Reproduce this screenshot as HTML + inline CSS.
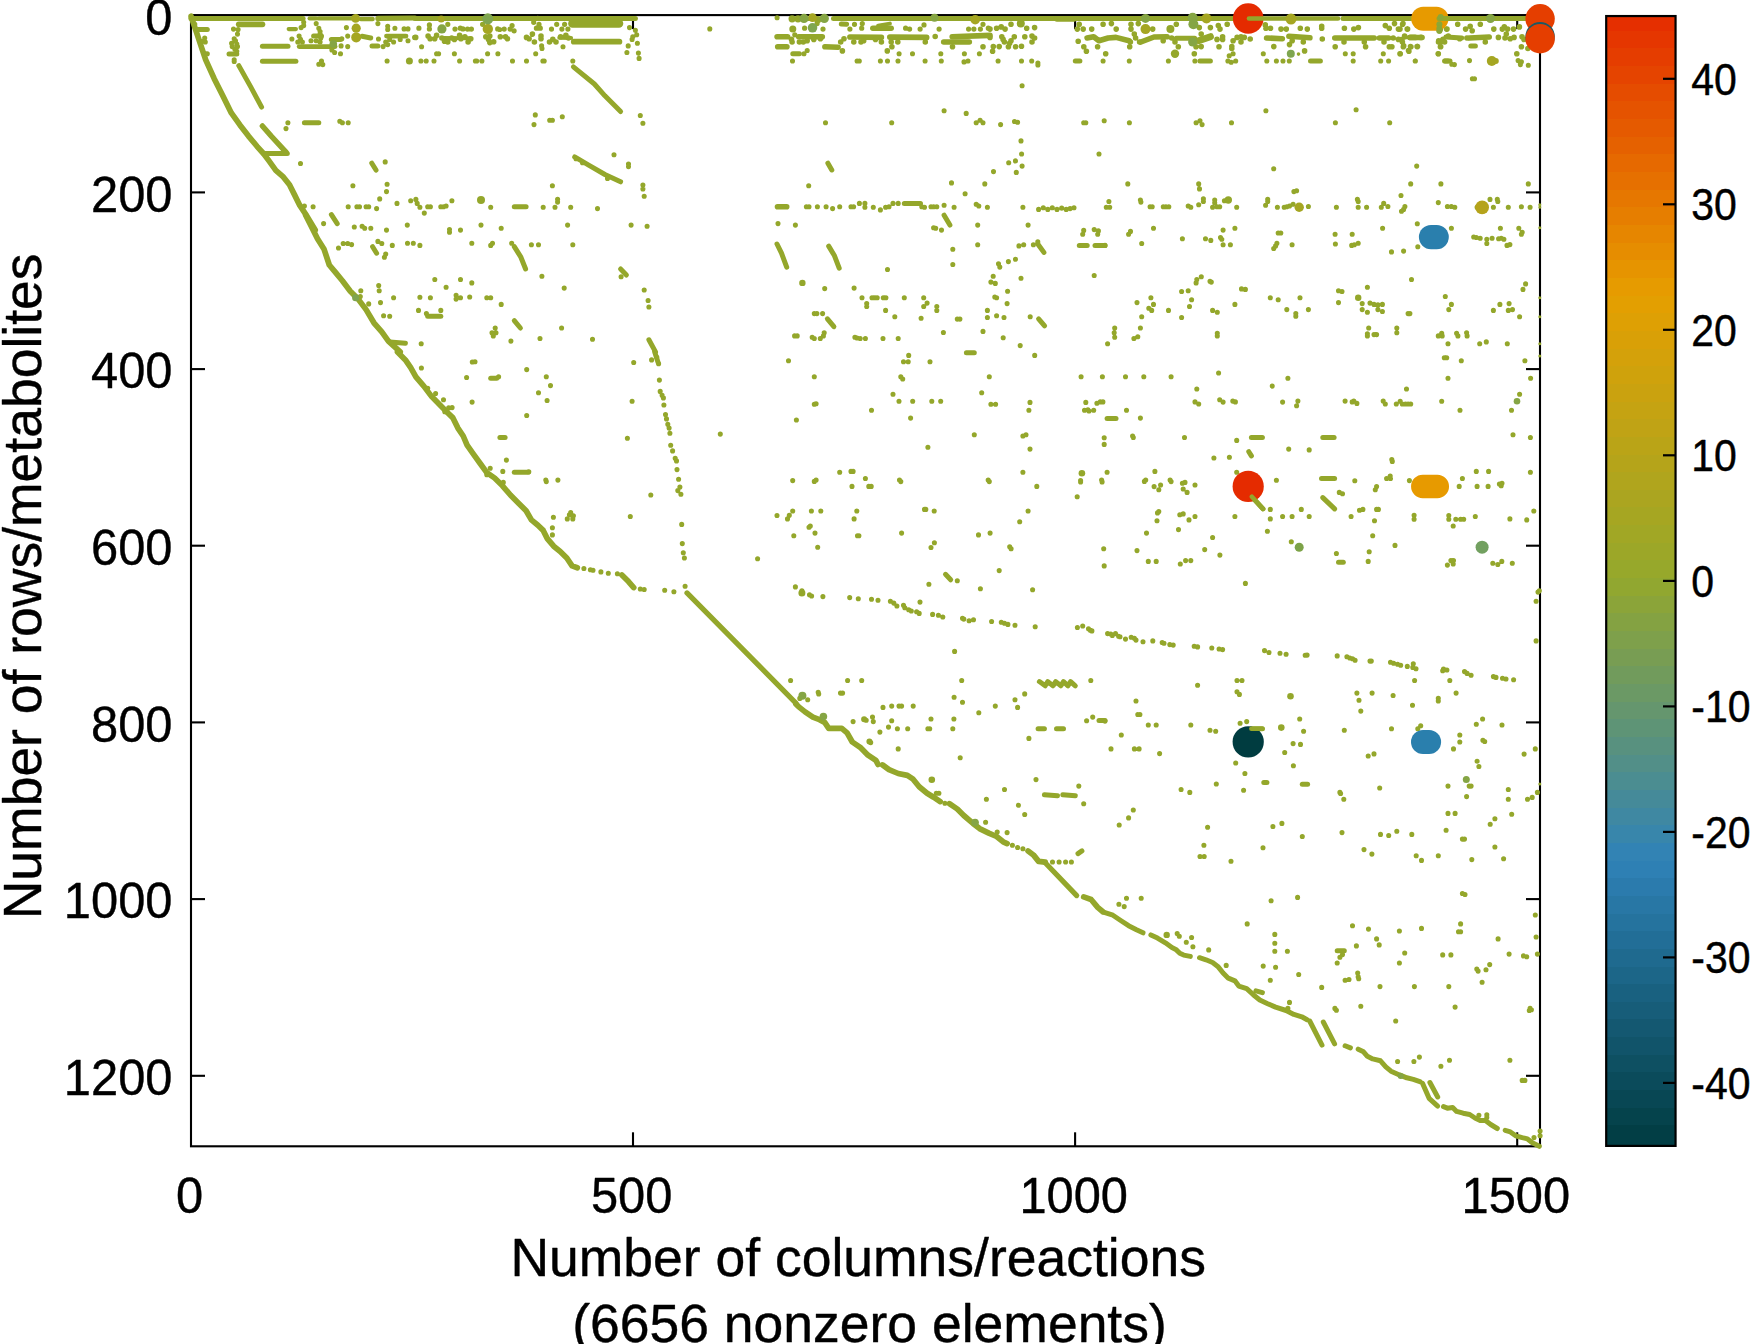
<!DOCTYPE html>
<html lang="en"><head><meta charset="utf-8"><title>Sparsity pattern</title>
<style>html,body{margin:0;padding:0;background:#fff}svg{display:block}text{font-family:"Liberation Sans",sans-serif;fill:#000;stroke:#000;stroke-width:0.4px;stroke-linejoin:round}</style></head><body>
<svg width="1753" height="1344" viewBox="0 0 1753 1344">
<rect width="1753" height="1344" fill="#fff"/>
<g shape-rendering="crispEdges">
<rect x="1606.2" y="1124.80" width="69.35" height="21.70" fill="#023e45"/>
<rect x="1606.2" y="1107.14" width="69.35" height="18.25" fill="#05434c"/>
<rect x="1606.2" y="1089.49" width="69.35" height="18.25" fill="#084754"/>
<rect x="1606.2" y="1071.84" width="69.35" height="18.25" fill="#0b4b5b"/>
<rect x="1606.2" y="1054.18" width="69.35" height="18.26" fill="#0e5062"/>
<rect x="1606.2" y="1036.52" width="69.35" height="18.25" fill="#11546a"/>
<rect x="1606.2" y="1018.87" width="69.35" height="18.25" fill="#145871"/>
<rect x="1606.2" y="1001.21" width="69.35" height="18.25" fill="#175d79"/>
<rect x="1606.2" y="983.56" width="69.35" height="18.25" fill="#196180"/>
<rect x="1606.2" y="965.90" width="69.35" height="18.25" fill="#1c6688"/>
<rect x="1606.2" y="948.25" width="69.35" height="18.25" fill="#1f6a8f"/>
<rect x="1606.2" y="930.59" width="69.35" height="18.26" fill="#226e97"/>
<rect x="1606.2" y="912.94" width="69.35" height="18.25" fill="#25739e"/>
<rect x="1606.2" y="895.28" width="69.35" height="18.25" fill="#2877a5"/>
<rect x="1606.2" y="877.63" width="69.35" height="18.26" fill="#2b7bad"/>
<rect x="1606.2" y="859.97" width="69.35" height="18.25" fill="#2e80b4"/>
<rect x="1606.2" y="842.32" width="69.35" height="18.25" fill="#3283b4"/>
<rect x="1606.2" y="824.66" width="69.35" height="18.25" fill="#3886ab"/>
<rect x="1606.2" y="807.01" width="69.35" height="18.25" fill="#3f88a2"/>
<rect x="1606.2" y="789.35" width="69.35" height="18.26" fill="#458a99"/>
<rect x="1606.2" y="771.70" width="69.35" height="18.25" fill="#4b8d91"/>
<rect x="1606.2" y="754.04" width="69.35" height="18.25" fill="#528f88"/>
<rect x="1606.2" y="736.39" width="69.35" height="18.26" fill="#58917f"/>
<rect x="1606.2" y="718.73" width="69.35" height="18.25" fill="#5e9476"/>
<rect x="1606.2" y="701.08" width="69.35" height="18.25" fill="#65966e"/>
<rect x="1606.2" y="683.42" width="69.35" height="18.25" fill="#6b9965"/>
<rect x="1606.2" y="665.77" width="69.35" height="18.25" fill="#719b5c"/>
<rect x="1606.2" y="648.11" width="69.35" height="18.26" fill="#789d53"/>
<rect x="1606.2" y="630.46" width="69.35" height="18.25" fill="#7ea04b"/>
<rect x="1606.2" y="612.80" width="69.35" height="18.25" fill="#84a242"/>
<rect x="1606.2" y="595.15" width="69.35" height="18.26" fill="#8ba439"/>
<rect x="1606.2" y="577.49" width="69.35" height="18.25" fill="#91a730"/>
<rect x="1606.2" y="559.84" width="69.35" height="18.25" fill="#97a82b"/>
<rect x="1606.2" y="542.18" width="69.35" height="18.25" fill="#9ca728"/>
<rect x="1606.2" y="524.53" width="69.35" height="18.25" fill="#a1a725"/>
<rect x="1606.2" y="506.87" width="69.35" height="18.26" fill="#a6a622"/>
<rect x="1606.2" y="489.22" width="69.35" height="18.25" fill="#aba520"/>
<rect x="1606.2" y="471.56" width="69.35" height="18.25" fill="#b0a51d"/>
<rect x="1606.2" y="453.91" width="69.35" height="18.26" fill="#b5a41a"/>
<rect x="1606.2" y="436.25" width="69.35" height="18.25" fill="#baa417"/>
<rect x="1606.2" y="418.60" width="69.35" height="18.25" fill="#c0a315"/>
<rect x="1606.2" y="400.94" width="69.35" height="18.25" fill="#c5a312"/>
<rect x="1606.2" y="383.29" width="69.35" height="18.25" fill="#caa20f"/>
<rect x="1606.2" y="365.63" width="69.35" height="18.26" fill="#cfa20c"/>
<rect x="1606.2" y="347.98" width="69.35" height="18.25" fill="#d4a10a"/>
<rect x="1606.2" y="330.32" width="69.35" height="18.25" fill="#d9a007"/>
<rect x="1606.2" y="312.67" width="69.35" height="18.26" fill="#dea004"/>
<rect x="1606.2" y="295.01" width="69.35" height="18.25" fill="#e39f01"/>
<rect x="1606.2" y="277.36" width="69.35" height="18.25" fill="#e69b00"/>
<rect x="1606.2" y="259.70" width="69.35" height="18.25" fill="#e69400"/>
<rect x="1606.2" y="242.05" width="69.35" height="18.25" fill="#e68d00"/>
<rect x="1606.2" y="224.39" width="69.35" height="18.26" fill="#e68600"/>
<rect x="1606.2" y="206.74" width="69.35" height="18.25" fill="#e67e00"/>
<rect x="1606.2" y="189.08" width="69.35" height="18.25" fill="#e67700"/>
<rect x="1606.2" y="171.43" width="69.35" height="18.26" fill="#e67000"/>
<rect x="1606.2" y="153.77" width="69.35" height="18.25" fill="#e66900"/>
<rect x="1606.2" y="136.12" width="69.35" height="18.25" fill="#e56100"/>
<rect x="1606.2" y="118.46" width="69.35" height="18.25" fill="#e55a00"/>
<rect x="1606.2" y="100.81" width="69.35" height="18.25" fill="#e55300"/>
<rect x="1606.2" y="83.15" width="69.35" height="18.25" fill="#e54c00"/>
<rect x="1606.2" y="65.50" width="69.35" height="18.26" fill="#e54400"/>
<rect x="1606.2" y="47.84" width="69.35" height="18.25" fill="#e53d00"/>
<rect x="1606.2" y="30.19" width="69.35" height="18.25" fill="#e53600"/>
<rect x="1606.2" y="16.05" width="69.35" height="14.74" fill="#e52f00"/>
</g>
<rect x="1606.2" y="16.05" width="69.35" height="1129.85" fill="none" stroke="#000" stroke-width="2.2"/>
<line x1="1663.0" y1="1082.9" x2="1675.55" y2="1082.9" stroke="#000" stroke-width="2.2"/>
<text transform="translate(1691.3,1098.6) scale(1,1.085)" font-size="41">-40</text>
<line x1="1663.0" y1="957.4" x2="1675.55" y2="957.4" stroke="#000" stroke-width="2.2"/>
<text transform="translate(1691.3,973.1) scale(1,1.085)" font-size="41">-30</text>
<line x1="1663.0" y1="831.9" x2="1675.55" y2="831.9" stroke="#000" stroke-width="2.2"/>
<text transform="translate(1691.3,847.6) scale(1,1.085)" font-size="41">-20</text>
<line x1="1663.0" y1="706.4" x2="1675.55" y2="706.4" stroke="#000" stroke-width="2.2"/>
<text transform="translate(1691.3,722.1) scale(1,1.085)" font-size="41">-10</text>
<line x1="1663.0" y1="580.9" x2="1675.55" y2="580.9" stroke="#000" stroke-width="2.2"/>
<text transform="translate(1691.3,596.6) scale(1,1.085)" font-size="41">0</text>
<line x1="1663.0" y1="455.3" x2="1675.55" y2="455.3" stroke="#000" stroke-width="2.2"/>
<text transform="translate(1691.3,471.0) scale(1,1.085)" font-size="41">10</text>
<line x1="1663.0" y1="329.8" x2="1675.55" y2="329.8" stroke="#000" stroke-width="2.2"/>
<text transform="translate(1691.3,345.5) scale(1,1.085)" font-size="41">20</text>
<line x1="1663.0" y1="204.3" x2="1675.55" y2="204.3" stroke="#000" stroke-width="2.2"/>
<text transform="translate(1691.3,220.0) scale(1,1.085)" font-size="41">30</text>
<line x1="1663.0" y1="78.8" x2="1675.55" y2="78.8" stroke="#000" stroke-width="2.2"/>
<text transform="translate(1691.3,94.5) scale(1,1.085)" font-size="41">40</text>
<g stroke="#000" stroke-width="2.1" fill="none">
<rect x="191.0" y="15.1" width="1349.0" height="1131.2"/>
<line x1="633.0" y1="1146.3" x2="633.0" y2="1132.3"/>
<line x1="633.0" y1="15.1" x2="633.0" y2="29.1"/>
<line x1="1075.1" y1="1146.3" x2="1075.1" y2="1132.3"/>
<line x1="1075.1" y1="15.1" x2="1075.1" y2="29.1"/>
<line x1="1517.2" y1="1146.3" x2="1517.2" y2="1132.3"/>
<line x1="1517.2" y1="15.1" x2="1517.2" y2="29.1"/>
<line x1="191.0" y1="192.4" x2="205.0" y2="192.4"/>
<line x1="1540.0" y1="192.4" x2="1526.0" y2="192.4"/>
<line x1="191.0" y1="369.1" x2="205.0" y2="369.1"/>
<line x1="1540.0" y1="369.1" x2="1526.0" y2="369.1"/>
<line x1="191.0" y1="545.7" x2="205.0" y2="545.7"/>
<line x1="1540.0" y1="545.7" x2="1526.0" y2="545.7"/>
<line x1="191.0" y1="722.4" x2="205.0" y2="722.4"/>
<line x1="1540.0" y1="722.4" x2="1526.0" y2="722.4"/>
<line x1="191.0" y1="899.1" x2="205.0" y2="899.1"/>
<line x1="1540.0" y1="899.1" x2="1526.0" y2="899.1"/>
<line x1="191.0" y1="1075.8" x2="205.0" y2="1075.8"/>
<line x1="1540.0" y1="1075.8" x2="1526.0" y2="1075.8"/>
</g>
<g fill="none" stroke="#94a72b" stroke-linecap="round" stroke-linejoin="round">
<polyline points="191.1,16.3 197.1,34.2 205.7,59.9 214.2,78.7 222.8,95.8 231.3,112.9 239.9,124.9 248.5,136.1 257.0,146.3 263.9,154.0 269.0,160.9 275.8,170.3 282.7,176.3 289.5,184.8 294.7,195.1 299.8,205.4 306.6,215.6 315.2,230.0" stroke-width="5.7"/>
<polyline points="305.7,215.2 311.0,225.7 317.5,238.8 324.1,249.3 329.3,265.0 335.9,272.9 342.4,280.8 350.3,291.3 358.2,299.1 366.1,309.6 373.9,322.8 381.8,331.9 388.4,341.1 400.2,351.9" stroke-width="5.7"/>
<polyline points="397.5,352.0 405.4,359.9 410.7,367.7 415.9,376.9 423.8,386.1 431.7,396.6 439.5,404.5 447.4,412.4 452.7,417.6 457.9,428.1 463.2,436.0 467.1,445.2 473.6,454.3 480.2,463.5 486.8,472.7 494.6,478.0 502.5,485.8 510.4,495.0 518.3,502.9 526.1,510.8 531.4,519.9 537.9,525.2 543.2,530.4 547.1,538.3 553.7,546.2 560.2,551.4 566.8,558.0 572.1,565.9 577.3,567.7" stroke-width="5.7"/>
<polyline points="621.9,575.0 628.5,581.6 633.7,587.6" stroke-width="5.7"/>
<polyline points="687.0,592.9 795.9,703.1" stroke-width="5.2"/>
<polyline points="795.9,704.0 798.5,706.6 805.1,711.9 812.9,717.1 819.5,719.7 824.7,722.4 828.7,728.4 841.8,728.4 847.1,732.9 852.3,742.0 860.2,747.3 868.0,755.2 875.9,760.4 878.0,764.4" stroke-width="5.7"/>
<polyline points="882.5,764.9 889.0,769.6 898.2,773.5 907.4,775.4 912.7,778.8 919.2,786.7 927.1,793.2 933.6,797.2 940.2,801.6" stroke-width="5.7"/>
<polyline points="949.4,803.7 957.3,809.0 963.8,815.5 973.0,823.4 979.6,828.6 988.8,833.1 996.6,836.5 1003.2,841.8 1007.1,843.6" stroke-width="5.7"/>
<polyline points="1028.1,850.9 1033.4,854.9 1038.6,861.4 1045.2,862.2" stroke-width="5.7"/>
<polyline points="1045.2,862.8 1076.7,895.6" stroke-width="5.2"/>
<polyline points="1083.7,896.9 1091.1,899.5 1097.7,907.4 1102.9,911.8" stroke-width="5.7"/>
<polyline points="1105.0,912.6 1112.9,915.2 1120.7,920.5 1128.6,925.7 1136.5,929.7 1143.0,932.8" stroke-width="5.0"/>
<polyline points="1150.9,934.9 1157.5,938.1 1165.4,942.8 1171.9,947.5 1175.8,949.4 1179.8,953.3 1183.7,955.1 1190.3,956.4" stroke-width="5.0"/>
<polyline points="1199.5,957.7 1206.0,959.8 1212.6,962.5 1217.8,966.4 1223.1,973.0 1228.3,978.2 1234.9,980.8 1238.8,986.1 1246.7,988.7 1253.3,994.7 1259.8,1000.0 1267.7,1003.7 1275.6,1007.1 1286.1,1010.5 1293.9,1014.4 1301.8,1016.8 1307.1,1019.7" stroke-width="5.0"/>
<polyline points="1309.7,1021.0 1322.0,1045.1" stroke-width="5.0"/>
<polyline points="1323.3,1022.0 1334.6,1043.8" stroke-width="5.0"/>
<polyline points="1345.1,1045.8 1350.4,1047.9" stroke-width="5.0"/>
<polyline points="1358.2,1049.2 1363.5,1051.8 1367.4,1056.3 1372.7,1058.9 1380.5,1060.8 1385.8,1066.8 1391.0,1071.2 1398.9,1074.7 1406.8,1077.8 1413.3,1079.4 1419.9,1081.7" stroke-width="5.0"/>
<polyline points="1422.5,1083.3 1429.1,1098.3 1437.7,1106.1" stroke-width="5.0"/>
<polyline points="1429.9,1082.5 1437.7,1097.0" stroke-width="5.0"/>
<polyline points="1443.5,1106.7 1447.4,1108.2 1452.7,1107.5 1456.6,1111.4 1463.2,1113.2 1469.7,1114.5 1475.0,1118.0 1480.2,1120.6 1485.5,1120.6 1490.7,1124.5 1497.3,1128.5" stroke-width="5.0"/>
<polyline points="1505.2,1130.3 1510.4,1131.9 1515.7,1135.8 1522.2,1137.6 1527.5,1138.9 1532.7,1142.9 1539.3,1146.3" stroke-width="5.0"/>
<polyline points="238.8,65.6 250.6,86.6 261.6,107.1" stroke-width="5.0"/>
<polyline points="262.4,126.0 271.6,136.5 286.0,152.2" stroke-width="5.5"/>
<polyline points="263.7,153.5 287.3,153.5" stroke-width="5.0"/>
<polyline points="304.4,122.8 318.8,122.8" stroke-width="5.0"/>
<polyline points="573.4,66.9 594.4,84.0 604.9,95.8 620.6,111.5" stroke-width="5"/>
<polyline points="574.7,156.9 589.1,165.3 604.9,174.5 620.6,181.8" stroke-width="5"/>
<polyline points="371.8,163.2 376.0,170.0" stroke-width="5.0"/>
<polyline points="514.3,206.8 526.1,206.8" stroke-width="5.0"/>
<polyline points="331.4,214.6 337.2,223.6" stroke-width="5.0"/>
<polyline points="372.6,246.7 376.6,253.2" stroke-width="5.0"/>
<polyline points="514.3,246.7 520.9,257.2 525.6,269.0" stroke-width="5.0"/>
<polyline points="620.6,269.0 626.4,275.0" stroke-width="5.0"/>
<polyline points="427.7,316.2 440.8,316.2" stroke-width="5.0"/>
<polyline points="514.3,320.7 520.4,328.0" stroke-width="5.0"/>
<polyline points="389.7,341.9 405.4,343.2" stroke-width="5.0"/>
<polyline points="827.9,163.2 831.8,170.0" stroke-width="5.0"/>
<polyline points="777.5,206.8 786.7,206.8" stroke-width="5.6"/>
<polyline points="904.3,203.4 920.5,203.4" stroke-width="5.0"/>
<polyline points="944.1,215.2 949.9,225.1" stroke-width="5.0"/>
<polyline points="1079.3,245.4 1087.2,245.4" stroke-width="5.0"/>
<polyline points="1095.0,245.4 1105.0,245.4" stroke-width="5.0"/>
<polyline points="777.0,244.0 781.5,253.2 786.7,267.1" stroke-width="5.0"/>
<polyline points="828.7,246.1 834.5,255.8 839.2,268.2" stroke-width="5.0"/>
<polyline points="1037.8,244.0 1043.9,252.4" stroke-width="5.0"/>
<polyline points="827.4,318.8 833.9,326.7" stroke-width="5.0"/>
<polyline points="1038.6,318.8 1044.6,325.9" stroke-width="5.0"/>
<polyline points="648.9,339.8 655.5,351.9" stroke-width="5.0"/>
<polyline points="490.7,378.2 496.7,378.2" stroke-width="5.0"/>
<polyline points="499.9,437.5 505.1,437.5" stroke-width="5.0"/>
<polyline points="514.3,472.2 528.2,472.2" stroke-width="5.0"/>
<polyline points="966.4,352.8 974.3,352.8" stroke-width="5.0"/>
<polyline points="945.5,574.3 950.7,579.8" stroke-width="5.0"/>
<polyline points="1039.4,681.6 1045.2,685.8 1047.8,681.6 1053.0,685.8 1055.7,681.6 1060.9,685.8 1063.5,681.6 1068.0,685.8 1070.6,681.6 1075.3,685.8" stroke-width="5"/>
<polyline points="654.7,352.0 658.1,362.5" stroke-width="5.0"/>
<polyline points="1107.1,418.4 1116.0,418.4" stroke-width="5.0"/>
<polyline points="1251.4,437.5 1262.4,437.5" stroke-width="5.0"/>
<polyline points="1322.8,437.5 1334.1,437.5" stroke-width="5.0"/>
<polyline points="1248.8,451.7 1251.4,455.9" stroke-width="5.0"/>
<polyline points="1321.5,478.5 1334.6,478.5" stroke-width="5.0"/>
<polyline points="1251.9,496.8 1263.0,508.9" stroke-width="5.0"/>
<polyline points="1322.8,497.6 1334.6,508.9" stroke-width="5.0"/>
<polyline points="1338.5,562.2 1343.3,562.2" stroke-width="5.0"/>
<polyline points="1078.0,853.6 1081.9,850.9" stroke-width="5.0"/>
<polyline points="1099.0,720.5 1105.0,720.5" stroke-width="5.0"/>
<polyline points="1038.1,728.7 1044.4,728.7" stroke-width="5.0"/>
<polyline points="1056.5,728.7 1063.5,728.7" stroke-width="5.0"/>
<polyline points="1044.4,794.8 1057.5,795.8" stroke-width="5.0"/>
<polyline points="1062.8,794.8 1075.3,795.8" stroke-width="5.0"/>
<polyline points="1255.9,990.8 1262.4,992.6" stroke-width="5.0"/>
<polyline points="1251.4,728.7 1262.4,728.7" stroke-width="5.0"/>
<polyline points="1263.8,782.5 1266.9,782.5" stroke-width="5.0"/>
<polyline points="1302.3,784.3 1307.6,784.3" stroke-width="5.0"/>
<polyline points="1337.2,950.7 1344.3,950.7" stroke-width="5.0"/>
<polyline points="190.9,18.4 303.1,18.4" stroke-width="5"/>
<polyline points="309.6,18.4 316.2,18.4" stroke-width="4.2"/>
<polyline points="318.8,18.4 351.6,18.4" stroke-width="4.4"/>
<polyline points="360.8,19.0 372.6,19.0" stroke-width="4.4"/>
<polyline points="377.9,18.4 415.0,18.0" stroke-width="5.2"/>
<polyline points="238.8,24.3 262.4,24.3" stroke-width="5.8"/>
<polyline points="198.1,29.5 207.3,29.5" stroke-width="5.0"/>
<polyline points="229.0,54.1 236.8,54.1" stroke-width="5.0"/>
<polyline points="262.4,46.2 288.0,46.2" stroke-width="5"/>
<polyline points="262.4,61.3 295.9,61.3" stroke-width="5"/>
<polyline points="288.7,29.1 295.9,29.1" stroke-width="4.2"/>
<polyline points="313.6,36.1 321.5,36.1" stroke-width="5.0"/>
<polyline points="299.1,46.6 335.2,46.6" stroke-width="4.6"/>
<polyline points="331.3,39.4 340.5,39.4" stroke-width="5.0"/>
<polyline points="362.1,36.3 370.7,38.0" stroke-width="5.0"/>
<polyline points="386.4,36.1 406.1,36.1" stroke-width="4.6"/>
<polyline points="372.0,45.9 377.9,45.9" stroke-width="5.0"/>
<polyline points="415.0,18.4 635.4,18.4" stroke-width="5"/>
<polyline points="572.4,23.4 619.0,23.4" stroke-width="8.5"/>
<polyline points="573.8,41.7 619.4,41.7" stroke-width="5.8"/>
<polyline points="442.6,38.0 470.1,38.3" stroke-width="4"/>
<polyline points="559.3,37.7 571.1,38.0" stroke-width="4"/>
<polyline points="791.5,18.8 825.6,18.8" stroke-width="4.2"/>
<polyline points="833.5,18.4 990.0,18.4" stroke-width="5"/>
<polyline points="841.3,23.9 846.6,24.3" stroke-width="5"/>
<polyline points="872.8,28.2 891.2,28.2" stroke-width="5.5"/>
<polyline points="878.1,25.6 889.9,23.6" stroke-width="4"/>
<polyline points="777.1,36.7 787.6,36.7" stroke-width="5.6"/>
<polyline points="798.7,36.7 822.3,36.7" stroke-width="5.6"/>
<polyline points="777.7,46.8 786.9,46.8" stroke-width="5.6"/>
<polyline points="824.9,46.8 838.1,47.2" stroke-width="5.6"/>
<polyline points="849.9,37.0 881.4,37.4" stroke-width="5.6"/>
<polyline points="889.9,37.1 926.6,37.4" stroke-width="5.8"/>
<polyline points="943.7,42.0 969.3,42.0" stroke-width="5.6"/>
<polyline points="952.2,36.7 990.0,35.4" stroke-width="5.6"/>
<polyline points="792.8,53.8 799.4,53.8" stroke-width="5.0"/>
<polyline points="990.0,18.4 1220.0,18.4" stroke-width="5"/>
<polyline points="1056.9,19.0 1074.0,19.0" stroke-width="5.6"/>
<polyline points="1087.1,38.0 1093.7,36.7 1098.9,40.7 1108.1,38.0 1116.0,37.4 1129.1,40.7" stroke-width="5.6"/>
<polyline points="1140.9,42.0 1154.0,37.0 1167.1,36.7" stroke-width="5.6"/>
<polyline points="1176.3,38.3 1194.7,38.3" stroke-width="5"/>
<polyline points="1198.6,40.7 1210.4,36.7" stroke-width="7"/>
<polyline points="1075.3,61.0 1079.9,61.0" stroke-width="5.0"/>
<polyline points="1199.9,61.0 1210.4,61.0" stroke-width="5.0"/>
<polyline points="1266.6,38.0 1282.3,38.7" stroke-width="5.6"/>
<polyline points="1288.9,36.3 1309.9,37.7" stroke-width="5.6"/>
<polyline points="1334.8,38.0 1374.2,38.0" stroke-width="5.6"/>
<polyline points="1379.4,38.0 1388.6,38.0" stroke-width="5.6"/>
<polyline points="1409.6,37.4 1422.1,37.4" stroke-width="5.5"/>
<polyline points="1310.5,61.0 1320.4,61.0" stroke-width="5"/>
<polyline points="1445.0,61.0 1450.0,61.0" stroke-width="5.0"/>
<polyline points="1410.5,37.4 1415.1,37.4" stroke-width="5.6"/>
<polyline points="1445.9,37.0 1461.7,38.0" stroke-width="5"/>
<polyline points="1469.5,38.0 1489.2,37.0" stroke-width="5.6"/>
<polyline points="1470.8,45.9 1475.4,45.9" stroke-width="5.0"/>
<polyline points="1444.6,61.0 1447.9,61.0" stroke-width="5.0"/>
</g>
<path d="M1539.8 204.7h0M1539.8 207.3h0M1539.8 227.8h0M1539.8 297.8h0M1539.8 316.7h0M1539.8 343.8h0M1539.8 355.9h0M1539.8 784.0h0" fill="none" stroke="#94a72b" stroke-width="3.0" stroke-linecap="round"/>
<path d="M1298.5 54.1h0" fill="none" stroke="#94a72b" stroke-width="3.6" stroke-linecap="round"/>
<path d="M287.9 122.8h0M286.0 128.6h0M339.8 121.2h0M342.4 122.8h0M348.2 122.8h0M535.3 114.9h0M534.0 124.6h0M549.7 120.2h0M552.4 120.2h0M562.3 116.8h0M640.3 115.5h0M642.9 123.3h0M576.0 158.8h0M582.5 162.7h0M607.5 178.4h0M614.0 154.8h0M628.5 164.0h0M628.5 166.6h0M300.5 163.5h0M385.2 161.9h0M352.9 185.8h0M387.1 184.2h0M386.5 191.6h0M379.7 198.9h0M552.4 185.8h0M642.9 185.0h0M642.9 188.9h0M644.2 196.3h0M304.4 206.0h0M313.1 206.8h0M348.2 206.8h0M356.9 206.8h0M359.5 206.8h0M366.1 206.8h0M368.7 206.8h0M376.6 208.6h0M397.0 203.4h0M410.7 200.7h0M415.9 199.4h0M417.2 203.4h0M419.9 207.3h0M424.3 213.1h0M427.7 206.8h0M430.4 206.8h0M440.8 206.8h0M443.5 206.8h0M446.1 206.0h0M451.9 200.7h0M490.7 207.3h0M543.2 207.3h0M555.0 207.3h0M557.6 199.4h0M557.6 202.1h0M570.7 207.3h0M597.5 208.6h0M323.6 223.6h0M354.3 227.0h0M362.1 226.2h0M364.7 228.3h0M370.8 228.3h0M386.5 230.1h0M407.3 225.1h0M449.5 229.6h0M449.5 232.2h0M460.5 230.1h0M481.0 225.1h0M501.2 228.3h0M567.6 225.1h0M631.1 225.1h0M338.5 248.0h0M343.2 243.5h0M347.7 243.5h0M351.6 244.6h0M377.9 241.4h0M381.8 243.5h0M392.3 245.4h0M407.5 243.3h0M413.3 243.3h0M419.9 245.4h0M385.7 254.0h0M384.4 257.2h0M471.8 243.3h0M490.7 245.4h0M492.5 243.3h0M511.7 243.3h0M531.4 244.8h0M538.5 244.8h0M572.8 244.8h0M621.1 276.8h0M541.9 276.3h0M434.8 279.5h0M460.5 279.5h0M471.8 282.9h0M446.1 287.3h0M378.7 285.5h0M379.2 290.7h0M564.2 288.1h0M644.2 290.0h0M360.8 290.7h0M360.3 296.5h0M393.6 297.8h0M380.5 302.6h0M368.7 303.9h0M419.9 297.3h0M430.4 297.8h0M456.1 295.2h0M456.1 299.1h0M460.5 297.8h0M469.7 297.0h0M486.8 297.8h0M490.7 297.8h0M501.2 304.4h0M418.5 310.4h0M440.8 310.4h0M426.4 313.6h0M383.6 315.7h0M389.7 316.2h0M495.2 328.0h0M492.0 332.7h0M496.0 332.7h0M493.3 335.9h0M561.6 328.0h0M540.0 338.5h0M510.9 341.1h0M592.5 339.3h0M421.2 343.8h0M709.8 28.9h0M1022.1 85.8h0M944.1 110.7h0M966.2 113.4h0M825.5 122.8h0M891.7 122.8h0M976.2 122.8h0M980.1 120.2h0M983.0 122.8h0M1000.6 124.6h0M1014.5 121.5h0M1017.6 122.3h0M1083.7 122.8h0M1085.8 122.8h0M1104.2 120.7h0M1021.0 140.9h0M1021.6 154.0h0M1099.0 154.0h0M1015.5 160.9h0M1008.7 162.7h0M1022.1 166.1h0M1016.3 172.4h0M993.5 171.6h0M951.5 182.9h0M984.8 183.9h0M808.7 185.8h0M965.1 193.7h0M806.4 206.8h0M809.0 206.8h0M817.4 206.8h0M826.1 206.8h0M832.6 208.6h0M839.7 206.8h0M851.0 206.8h0M853.6 206.8h0M859.4 203.4h0M864.9 203.4h0M864.9 207.3h0M873.3 207.3h0M880.4 209.9h0M885.6 207.3h0M889.0 206.8h0M893.0 203.4h0M898.2 203.4h0M921.8 206.8h0M924.5 207.3h0M931.0 206.8h0M933.6 206.8h0M936.8 206.8h0M944.1 205.2h0M954.1 207.3h0M976.2 204.2h0M978.8 206.0h0M987.4 207.3h0M1022.9 207.3h0M1038.6 209.4h0M1043.3 207.8h0M1047.8 209.4h0M1052.3 207.8h0M1057.0 209.4h0M1061.7 208.1h0M1066.2 209.4h0M1070.1 208.6h0M1074.0 207.8h0M647.1 226.2h0M778.0 223.6h0M795.4 225.1h0M933.6 227.8h0M935.7 228.3h0M941.5 230.1h0M977.7 225.1h0M1028.1 225.1h0M1083.7 230.4h0M1082.7 234.3h0M1094.2 229.6h0M1098.4 230.9h0M1097.7 234.3h0M977.7 244.8h0M1018.9 245.9h0M1023.7 244.8h0M1033.4 244.8h0M1037.8 241.9h0M952.8 249.3h0M952.8 264.5h0M887.5 269.5h0M1015.5 259.3h0M1008.4 261.6h0M998.5 263.7h0M999.8 267.1h0M993.2 276.3h0M990.9 282.1h0M995.3 283.4h0M1021.0 278.2h0M1094.2 275.5h0M824.7 288.6h0M854.1 288.1h0M1007.6 291.3h0M648.1 300.5h0M648.9 307.0h0M862.0 297.8h0M872.0 297.8h0M874.6 297.8h0M877.2 297.8h0M883.3 297.8h0M885.9 297.8h0M904.3 297.8h0M923.7 297.8h0M927.1 303.1h0M923.7 306.5h0M866.7 303.6h0M866.7 306.5h0M936.8 306.5h0M936.8 310.4h0M885.6 310.4h0M994.8 297.0h0M996.6 297.8h0M1007.1 303.6h0M987.4 310.4h0M987.4 317.5h0M996.6 315.7h0M1004.0 317.5h0M1030.2 316.7h0M894.8 316.7h0M921.1 318.3h0M957.3 319.1h0M959.9 319.1h0M814.3 313.6h0M816.9 313.6h0M822.6 313.6h0M943.4 332.5h0M983.0 331.4h0M794.6 335.9h0M797.2 335.9h0M812.2 337.2h0M814.3 338.5h0M820.3 338.5h0M823.4 335.9h0M824.2 332.7h0M854.9 337.2h0M857.0 338.0h0M860.2 338.5h0M865.4 338.5h0M883.0 338.5h0M898.2 338.5h0M1003.2 337.7h0M1020.2 345.6h0M1472.4 78.7h0M1474.5 78.7h0M1265.9 110.7h0M1356.1 109.7h0M1129.4 122.8h0M1196.1 122.8h0M1200.0 120.7h0M1202.1 124.6h0M1231.5 122.8h0M1335.4 122.8h0M1389.7 122.8h0M1273.7 168.7h0M1416.7 166.1h0M1127.8 183.9h0M1198.7 183.9h0M1199.5 188.9h0M1410.7 183.9h0M1440.9 183.9h0M1528.3 183.9h0M1293.9 191.6h0M1296.6 190.8h0M1401.0 195.5h0M1108.9 201.5h0M1106.3 207.3h0M1109.7 207.3h0M1140.4 200.0h0M1140.9 202.1h0M1150.1 206.8h0M1152.2 206.8h0M1163.3 206.8h0M1165.9 206.8h0M1168.8 206.8h0M1188.2 206.0h0M1190.8 207.3h0M1198.7 204.7h0M1203.4 198.9h0M1203.4 201.5h0M1214.7 200.0h0M1214.7 202.8h0M1212.6 207.3h0M1217.0 206.8h0M1219.7 206.8h0M1224.4 200.7h0M1236.7 207.3h0M1267.7 199.4h0M1267.7 201.5h0M1265.6 205.2h0M1277.4 207.3h0M1284.2 207.3h0M1286.8 206.8h0M1289.5 206.0h0M1293.1 204.2h0M1308.4 206.5h0M1336.4 207.3h0M1357.4 199.4h0M1358.2 201.5h0M1358.2 207.3h0M1366.6 207.3h0M1381.3 207.3h0M1383.7 203.4h0M1387.9 206.5h0M1404.9 206.5h0M1403.6 209.4h0M1401.5 211.2h0M1438.3 202.6h0M1447.4 206.5h0M1451.4 206.5h0M1454.8 207.3h0M1490.0 199.4h0M1497.3 199.4h0M1497.8 201.5h0M1493.4 207.3h0M1477.1 207.3h0M1508.3 207.3h0M1521.4 206.8h0M1530.1 207.3h0M1153.5 228.3h0M1130.5 231.4h0M1128.6 234.3h0M1141.7 243.5h0M1105.0 245.4h0M1182.4 238.8h0M1205.5 238.8h0M1210.8 240.4h0M1223.1 230.1h0M1234.9 228.3h0M1220.5 237.5h0M1221.8 239.3h0M1223.1 244.8h0M1230.4 244.8h0M1278.2 233.0h0M1280.8 233.0h0M1276.9 243.3h0M1275.6 245.9h0M1273.7 248.5h0M1292.1 244.8h0M1335.1 234.3h0M1352.2 234.3h0M1335.4 244.0h0M1351.7 245.4h0M1354.3 244.8h0M1358.2 243.3h0M1382.6 228.3h0M1417.3 223.8h0M1451.4 228.3h0M1417.8 246.7h0M1403.6 251.1h0M1391.5 251.9h0M1473.7 237.0h0M1476.3 237.5h0M1480.2 238.3h0M1486.8 239.3h0M1486.8 243.5h0M1492.1 238.3h0M1498.6 238.8h0M1501.2 238.3h0M1503.9 239.3h0M1500.4 228.3h0M1518.8 228.3h0M1522.2 232.2h0M1521.4 234.3h0M1507.0 245.4h0M1509.9 244.6h0M1201.3 276.8h0M1196.8 279.5h0M1196.1 282.9h0M1210.0 281.3h0M1211.3 282.1h0M1411.5 279.5h0M1525.6 283.9h0M1523.0 289.4h0M1181.6 291.5h0M1188.2 290.7h0M1241.5 288.9h0M1245.4 289.4h0M1338.5 290.7h0M1342.0 291.5h0M1367.4 287.3h0M1137.0 302.6h0M1150.9 297.8h0M1153.5 304.4h0M1148.8 308.3h0M1151.7 310.4h0M1141.7 316.7h0M1168.5 310.4h0M1191.6 299.7h0M1189.5 306.5h0M1181.6 317.5h0M1212.6 310.4h0M1217.3 312.3h0M1234.9 304.4h0M1270.3 297.8h0M1278.2 299.7h0M1300.0 297.8h0M1286.8 309.6h0M1308.4 309.6h0M1295.8 313.6h0M1295.8 316.2h0M1338.5 302.6h0M1362.2 303.6h0M1362.2 309.6h0M1367.4 312.3h0M1370.0 303.1h0M1374.0 304.4h0M1377.9 304.9h0M1382.4 304.4h0M1377.9 309.6h0M1382.4 311.5h0M1408.1 313.6h0M1409.9 313.6h0M1445.3 296.5h0M1451.4 304.4h0M1448.8 309.6h0M1493.4 310.4h0M1499.9 304.4h0M1509.1 303.6h0M1508.3 310.4h0M1512.5 309.6h0M1519.6 316.7h0M1114.7 328.0h0M1114.2 332.7h0M1114.7 337.2h0M1140.4 328.0h0M1137.8 336.7h0M1133.9 338.5h0M1217.3 333.3h0M1217.3 335.9h0M1368.7 328.0h0M1367.4 333.8h0M1367.4 335.9h0M1374.0 334.6h0M1376.6 334.6h0M1396.8 328.0h0M1396.8 332.7h0M1438.3 335.9h0M1441.7 333.3h0M1442.2 335.9h0M1456.6 333.3h0M1457.9 335.9h0M1466.6 332.7h0M1467.1 335.9h0M1448.0 343.8h0M1479.7 343.8h0M1486.3 341.9h0M1507.3 343.8h0M1107.6 343.8h0M427.7 388.2h0M435.6 393.5h0M443.5 399.8h0M448.7 407.9h0M452.1 407.6h0M444.8 411.8h0M490.2 468.2h0M486.8 474.8h0M503.3 482.4h0M421.4 368.0h0M472.3 362.0h0M475.0 361.7h0M466.6 377.5h0M498.6 376.7h0M526.7 369.6h0M546.3 376.7h0M550.5 385.6h0M538.5 392.7h0M547.1 400.5h0M472.1 402.1h0M526.7 415.5h0M633.7 362.5h0M632.1 401.3h0M627.4 438.3h0M506.4 460.1h0M502.8 471.4h0M528.8 471.7h0M545.8 480.1h0M546.3 481.6h0M557.9 480.1h0M553.4 517.3h0M567.3 518.9h0M570.7 512.6h0M569.4 514.7h0M573.4 515.7h0M572.8 518.9h0M552.4 527.8h0M552.4 534.9h0M630.3 516.5h0M651.6 359.9h0M656.8 357.2h0M658.6 363.8h0M659.4 380.1h0M660.2 391.4h0M662.1 395.3h0M663.4 397.9h0M663.9 405.0h0M665.5 414.5h0M666.5 418.9h0M667.8 424.2h0M669.1 428.1h0M669.9 433.3h0M670.7 445.2h0M672.6 450.9h0M675.2 458.3h0M676.5 460.9h0M677.0 469.6h0M678.6 479.3h0M679.9 487.1h0M677.8 490.6h0M680.9 494.2h0M681.7 524.4h0M682.3 543.6h0M683.3 552.7h0M684.4 558.0h0M650.8 495.0h0M788.5 360.7h0M908.7 355.4h0M903.5 361.7h0M908.2 361.7h0M930.0 361.7h0M1034.7 355.4h0M814.3 376.7h0M900.8 376.7h0M902.7 379.0h0M989.3 376.7h0M1081.1 376.7h0M1102.4 376.7h0M893.0 394.2h0M899.0 401.3h0M912.7 401.3h0M931.8 401.3h0M940.7 401.3h0M981.7 392.7h0M1030.0 402.4h0M990.9 404.2h0M995.6 404.2h0M814.3 404.2h0M816.1 403.7h0M1085.8 402.4h0M1096.9 403.2h0M1100.3 401.9h0M1102.9 401.9h0M871.5 410.3h0M1028.9 410.3h0M1084.5 410.3h0M1087.9 409.7h0M1089.0 411.0h0M1093.7 410.3h0M910.6 418.1h0M796.4 420.0h0M720.3 434.1h0M974.3 434.7h0M1022.9 436.0h0M1026.0 434.7h0M1104.2 437.8h0M1104.2 444.4h0M927.9 447.3h0M1030.0 449.1h0M839.7 472.2h0M851.0 471.4h0M853.1 471.4h0M865.4 478.5h0M792.7 480.6h0M814.3 481.4h0M816.1 480.1h0M899.5 480.1h0M900.8 481.6h0M988.2 480.1h0M989.3 481.6h0M1022.9 472.2h0M1080.6 480.6h0M1080.6 481.9h0M1101.6 480.1h0M1102.1 481.9h0M852.0 486.4h0M868.8 486.4h0M871.2 486.4h0M1036.8 486.4h0M1077.2 496.8h0M777.0 515.5h0M792.7 511.0h0M789.3 515.2h0M787.5 518.9h0M811.4 511.0h0M820.8 511.0h0M856.8 511.0h0M854.1 518.9h0M924.5 509.4h0M925.8 509.4h0M934.2 511.0h0M1028.1 511.0h0M1019.7 521.8h0M809.0 527.3h0M810.3 526.0h0M815.0 533.1h0M793.8 535.7h0M857.5 535.7h0M858.9 535.7h0M901.6 533.1h0M978.5 534.9h0M990.1 533.1h0M934.4 542.8h0M931.0 547.5h0M817.7 547.2h0M1009.7 546.7h0M1011.1 548.8h0M1103.7 548.8h0M757.6 558.8h0M999.2 570.6h0M1104.2 565.9h0M957.3 580.8h0M928.9 584.2h0M980.4 588.7h0M1032.6 589.7h0M795.4 586.9h0M801.9 590.8h0M809.5 594.7h0M811.6 596.0h0M822.9 596.6h0M849.7 597.6h0M858.3 598.7h0M871.5 599.2h0M878.0 600.2h0M890.4 601.3h0M893.8 603.1h0M896.9 606.0h0M903.5 605.2h0M904.8 607.8h0M908.7 609.7h0M911.3 611.0h0M916.6 611.8h0M919.2 613.4h0M920.0 602.1h0M932.6 614.4h0M938.4 615.2h0M942.8 617.0h0M962.5 618.3h0M963.8 619.1h0M969.1 620.7h0M973.5 619.7h0M991.6 621.5h0M1001.3 622.3h0M1004.5 623.3h0M1007.9 624.4h0M1015.0 625.2h0M1035.2 626.7h0M1077.4 627.5h0M1082.7 626.0h0M1088.5 628.8h0M1090.3 630.2h0M1091.9 630.9h0M954.6 651.4h0M790.6 680.5h0M847.6 680.5h0M861.7 680.5h0M961.7 680.5h0M1090.8 680.5h0M818.2 692.3h0M818.7 693.9h0M840.5 693.1h0M842.6 693.1h0M1024.7 693.9h0M954.1 697.3h0M1015.0 699.7h0M962.5 702.3h0M799.8 698.4h0M807.7 699.7h0M1444.3 357.8h0M1446.7 357.8h0M1461.3 360.7h0M1524.9 360.7h0M1125.5 376.7h0M1143.8 376.7h0M1171.1 376.7h0M1218.6 373.0h0M1287.9 378.2h0M1448.0 378.2h0M1530.6 378.2h0M1272.2 386.1h0M1196.8 389.0h0M1406.5 389.0h0M1519.6 394.2h0M1195.0 401.9h0M1198.7 404.0h0M1219.7 399.8h0M1223.1 402.1h0M1232.8 401.1h0M1235.4 401.9h0M1282.6 402.1h0M1297.9 401.1h0M1296.6 405.8h0M1345.1 401.1h0M1352.2 401.9h0M1353.8 401.1h0M1356.9 403.4h0M1383.2 401.1h0M1385.3 404.0h0M1396.3 404.0h0M1400.2 401.3h0M1402.3 404.0h0M1405.5 404.0h0M1408.1 404.0h0M1410.7 404.0h0M1441.7 401.3h0M1460.0 410.3h0M1511.5 410.3h0M1126.5 410.3h0M1140.4 418.1h0M1132.6 436.0h0M1133.3 437.5h0M1184.5 437.5h0M1236.7 440.4h0M1513.0 434.7h0M1530.4 437.5h0M1288.7 449.1h0M1309.2 449.9h0M1213.9 458.0h0M1229.4 457.2h0M1391.8 459.6h0M1392.3 461.4h0M1107.1 472.2h0M1154.9 471.4h0M1236.7 472.2h0M1476.3 471.4h0M1488.6 471.4h0M1530.4 472.2h0M1144.4 481.4h0M1145.7 480.1h0M1170.1 480.1h0M1171.1 481.6h0M1182.4 483.2h0M1185.0 482.4h0M1195.0 485.0h0M1154.1 486.6h0M1160.6 485.0h0M1158.8 489.8h0M1183.2 489.0h0M1187.1 492.4h0M1276.4 480.3h0M1354.8 480.8h0M1386.6 478.5h0M1390.2 476.1h0M1390.5 478.5h0M1409.4 480.6h0M1376.6 486.6h0M1375.3 489.8h0M1462.4 478.5h0M1459.2 486.4h0M1477.1 486.4h0M1488.1 486.4h0M1499.4 484.0h0M1502.0 483.2h0M1501.2 485.8h0M1339.3 492.4h0M1342.5 493.7h0M1158.8 511.5h0M1157.5 512.9h0M1179.8 514.7h0M1183.2 513.9h0M1195.0 516.5h0M1189.0 519.9h0M1157.0 520.7h0M1234.9 516.5h0M1270.3 509.4h0M1270.3 518.9h0M1282.6 516.5h0M1292.1 516.5h0M1301.3 509.4h0M1309.2 516.5h0M1351.1 516.5h0M1359.5 510.2h0M1362.9 509.4h0M1376.6 509.4h0M1378.4 509.4h0M1374.5 520.7h0M1414.1 515.2h0M1414.1 519.2h0M1448.8 515.5h0M1448.8 519.2h0M1455.8 519.2h0M1460.6 519.2h0M1463.7 519.2h0M1453.2 526.0h0M1475.3 516.5h0M1509.9 518.9h0M1526.7 519.9h0M1533.8 511.0h0M1146.5 533.1h0M1178.5 529.6h0M1212.6 537.5h0M1267.4 531.2h0M1372.7 535.7h0M1291.3 541.7h0M1395.0 545.4h0M1137.0 550.6h0M1204.7 549.6h0M1219.9 555.1h0M1336.4 553.5h0M1369.2 551.7h0M1148.3 561.4h0M1156.2 561.4h0M1180.3 564.0h0M1185.6 560.6h0M1190.8 560.6h0M1368.2 561.4h0M1447.4 565.1h0M1450.9 560.6h0M1453.5 560.6h0M1453.2 564.0h0M1492.8 563.2h0M1497.8 564.5h0M1501.8 561.4h0M1512.3 563.2h0M1245.4 583.4h0M1539.3 590.8h0M1538.0 592.1h0M1536.1 601.3h0M1536.1 640.9h0M1107.6 633.6h0M1110.8 634.1h0M1112.3 635.4h0M1115.5 633.6h0M1118.6 636.2h0M1120.0 636.7h0M1125.5 639.1h0M1131.2 637.2h0M1134.4 638.3h0M1136.0 640.1h0M1143.0 641.7h0M1152.8 640.9h0M1162.2 642.5h0M1164.0 643.3h0M1169.8 644.6h0M1173.2 645.1h0M1194.2 646.2h0M1197.6 646.9h0M1211.8 648.0h0M1219.1 649.0h0M1222.6 649.6h0M1264.5 650.6h0M1269.0 652.5h0M1280.0 653.2h0M1286.1 654.3h0M1305.2 655.3h0M1307.1 655.1h0M1337.2 655.9h0M1346.9 656.7h0M1349.8 658.0h0M1352.5 658.8h0M1355.1 660.3h0M1370.0 661.1h0M1371.3 661.1h0M1390.5 662.2h0M1393.6 663.2h0M1397.6 664.3h0M1400.7 665.3h0M1407.3 666.4h0M1413.3 663.7h0M1412.8 667.4h0M1416.0 668.7h0M1442.7 670.8h0M1443.5 669.0h0M1446.9 670.0h0M1464.5 671.6h0M1467.1 673.4h0M1471.1 675.3h0M1493.4 676.6h0M1496.0 677.4h0M1502.5 678.2h0M1506.0 679.0h0M1513.6 679.7h0M1237.0 680.5h0M1242.0 680.5h0M1197.6 685.3h0M1414.6 680.5h0M1449.8 680.5h0M1237.0 691.8h0M1239.4 694.4h0M1356.9 693.1h0M1372.1 693.1h0M1393.1 695.5h0M1438.3 698.4h0M1438.3 701.0h0M1456.1 693.1h0M1359.0 700.2h0M1136.0 701.0h0M997.2 832.1h0M1007.1 832.6h0M985.6 822.3h0M1052.5 862.0h0M1059.1 862.0h0M1065.6 862.0h0M1071.4 862.0h0M883.0 707.4h0M891.7 706.1h0M899.0 706.1h0M901.6 706.1h0M913.2 706.1h0M995.3 706.1h0M1017.6 707.4h0M978.8 712.7h0M853.1 721.6h0M866.2 720.3h0M872.5 717.1h0M873.3 721.6h0M891.7 720.8h0M931.0 719.0h0M953.9 719.0h0M1086.6 720.8h0M1092.7 717.1h0M888.5 727.1h0M897.4 728.7h0M907.7 728.7h0M879.9 732.1h0M927.9 728.7h0M929.7 728.7h0M952.8 728.7h0M1028.9 738.4h0M870.7 742.6h0M898.2 748.9h0M960.2 757.8h0M1036.0 779.6h0M1078.8 786.1h0M1004.5 789.5h0M936.3 793.2h0M938.9 793.2h0M1083.7 803.7h0M986.4 799.3h0M1018.4 805.3h0M1024.7 814.5h0M1177.2 933.6h0M1179.3 936.2h0M1191.6 937.5h0M1186.3 942.3h0M1192.9 946.7h0M1208.7 949.9h0M1226.2 965.4h0M1289.5 1002.4h0M1287.9 1008.4h0M1126.5 898.2h0M1141.2 898.2h0M1118.9 904.2h0M1124.2 906.6h0M1137.8 714.5h0M1139.9 714.5h0M1105.0 721.1h0M1148.3 725.0h0M1156.2 725.0h0M1190.8 725.0h0M1121.3 735.0h0M1210.0 730.2h0M1215.7 731.3h0M1240.1 723.2h0M1246.7 721.6h0M1299.7 719.0h0M1303.6 731.3h0M1293.1 743.6h0M1300.5 744.4h0M1284.7 752.5h0M1344.3 730.2h0M1360.8 711.1h0M1412.5 705.3h0M1391.5 728.7h0M1417.8 728.7h0M1420.7 725.8h0M1476.3 724.2h0M1482.6 719.0h0M1502.0 725.0h0M1459.8 735.0h0M1459.8 742.0h0M1482.9 740.2h0M1484.7 741.5h0M1453.5 748.9h0M1524.1 754.1h0M1535.3 748.9h0M1111.0 748.9h0M1134.4 748.9h0M1139.1 748.9h0M1159.6 753.6h0M1235.7 763.0h0M1293.4 765.7h0M1368.2 756.0h0M1374.0 753.9h0M1477.1 761.2h0M1478.9 766.5h0M1244.9 773.5h0M1181.1 789.5h0M1189.8 792.4h0M1216.3 784.0h0M1243.6 790.3h0M1339.9 792.4h0M1340.6 793.5h0M1343.8 799.3h0M1379.7 788.0h0M1448.0 786.1h0M1469.2 786.1h0M1471.1 786.1h0M1466.6 796.6h0M1508.3 789.5h0M1508.3 799.3h0M1527.5 799.3h0M1532.2 797.4h0M1537.4 792.4h0M1133.3 810.0h0M1128.6 817.9h0M1119.2 825.0h0M1207.6 827.3h0M1272.9 826.5h0M1281.9 823.4h0M1302.3 836.5h0M1342.0 832.6h0M1380.5 834.4h0M1388.7 835.5h0M1396.8 831.3h0M1411.8 834.4h0M1446.1 830.2h0M1448.0 813.4h0M1455.1 813.4h0M1462.4 839.1h0M1464.5 839.1h0M1494.9 818.7h0M1490.2 824.2h0M1511.7 814.2h0M1203.9 845.2h0M1200.0 856.5h0M1204.2 856.5h0M1231.0 861.2h0M1263.0 847.8h0M1364.0 849.6h0M1371.9 854.1h0M1416.2 855.7h0M1421.5 860.4h0M1438.3 855.7h0M1471.8 859.6h0M1494.9 847.0h0M1503.6 858.8h0M1271.1 900.8h0M1297.6 897.4h0M1462.4 893.5h0M1465.0 894.5h0M1247.2 923.9h0M1274.8 934.4h0M1274.8 943.3h0M1274.8 951.2h0M1287.4 951.2h0M1263.2 966.1h0M1275.6 967.2h0M1298.7 974.5h0M1270.3 980.3h0M1321.7 987.4h0M1352.5 925.7h0M1368.5 929.1h0M1376.6 938.9h0M1379.2 944.9h0M1356.4 945.9h0M1399.4 931.0h0M1421.5 928.4h0M1460.6 923.9h0M1458.5 931.8h0M1460.6 931.8h0M1498.1 938.9h0M1535.3 915.0h0M1536.1 937.0h0M1537.4 954.1h0M1342.5 954.6h0M1339.9 957.2h0M1337.2 963.0h0M1404.7 953.0h0M1399.4 963.0h0M1442.7 954.9h0M1450.9 954.9h0M1509.1 954.1h0M1523.5 955.9h0M1526.7 956.7h0M1489.7 964.6h0M1486.0 969.8h0M1476.8 969.0h0M1478.1 971.1h0M1482.1 982.2h0M1357.7 973.0h0M1358.2 976.9h0M1358.7 978.7h0M1345.1 980.3h0M1349.0 979.5h0M1380.0 986.6h0M1414.4 986.6h0M1448.8 986.6h0M1334.9 1008.4h0M1336.4 1010.2h0M1360.8 1006.3h0M1455.1 1007.1h0M1395.7 1021.0h0M1530.1 1008.4h0M1531.4 1009.7h0M1529.3 1010.5h0M1478.9 1115.3h0M1486.8 1114.8h0M1486.8 1117.4h0M1534.0 1137.6h0M1540.1 1131.1h0M1540.1 1135.8h0M1419.4 1057.1h0M1397.6 1061.5h0M1413.9 1061.5h0M1449.5 1060.2h0M1440.9 1066.3h0M1509.9 1060.2h0M1522.2 1080.4h0M1524.9 1080.4h0M194.8 24.3h0M204.7 38.0h0M205.3 42.0h0M202.7 41.3h0M206.0 53.8h0M207.3 53.8h0M233.5 29.1h0M238.1 29.5h0M237.5 34.1h0M234.2 38.7h0M235.5 40.7h0M231.6 43.3h0M236.8 44.0h0M232.2 46.6h0M237.5 46.6h0M234.9 49.2h0M236.8 51.2h0M234.2 59.7h0M234.2 61.4h0M291.9 39.0h0M303.7 22.3h0M301.1 27.6h0M303.7 25.6h0M316.2 23.6h0M318.8 28.2h0M320.1 31.5h0M320.1 34.1h0M299.1 36.1h0M300.5 39.4h0M297.8 42.0h0M302.4 42.0h0M311.0 40.7h0M316.2 40.7h0M320.8 38.0h0M320.1 42.0h0M341.8 38.7h0M341.1 45.9h0M347.7 46.6h0M334.6 52.5h0M340.5 53.8h0M331.9 49.9h0M346.4 27.6h0M347.7 36.1h0M377.9 23.6h0M387.7 26.2h0M387.7 29.5h0M394.9 28.2h0M404.1 28.9h0M408.0 28.9h0M378.5 39.0h0M389.7 39.4h0M393.6 42.0h0M400.2 39.4h0M408.0 40.7h0M414.6 37.4h0M383.1 46.6h0M387.7 44.6h0M385.7 42.0h0M321.5 61.0h0M318.8 64.3h0M322.8 64.6h0M387.1 61.0h0M541.6 45.9h0M542.0 48.5h0M563.0 46.8h0M421.6 46.8h0M436.6 53.8h0M438.6 53.8h0M454.4 53.8h0M487.6 53.8h0M497.9 53.8h0M535.7 53.8h0M420.9 61.0h0M426.2 61.0h0M434.0 61.0h0M459.6 61.0h0M475.4 61.0h0M476.7 61.0h0M481.9 61.0h0M512.5 61.0h0M526.5 61.0h0M542.9 61.0h0M544.2 61.0h0M572.8 61.0h0M629.5 27.6h0M635.4 30.2h0M636.7 34.8h0M632.8 36.7h0M632.1 39.4h0M637.4 43.3h0M628.2 45.9h0M626.9 52.5h0M638.4 53.1h0M639.1 58.4h0M777.1 17.7h0M804.0 53.8h0M807.2 50.5h0M899.1 53.8h0M912.5 53.8h0M940.8 53.8h0M964.4 53.8h0M979.4 53.8h0M792.5 61.0h0M857.1 61.0h0M859.3 61.0h0M880.4 61.0h0M887.5 61.0h0M898.0 61.0h0M925.1 61.0h0M941.3 61.0h0M964.0 61.9h0M968.0 61.0h0M998.1 61.0h0M1021.5 61.0h0M1031.7 61.0h0M1037.9 63.0h0M1037.9 64.9h0M1103.1 61.0h0M1129.3 61.0h0M1168.4 61.0h0M1194.9 61.0h0M1233.1 53.8h0M1229.2 55.8h0M1263.3 53.8h0M1345.3 53.8h0M1353.2 53.8h0M1383.3 53.8h0M1400.4 53.8h0M1438.2 53.8h0M1227.9 61.0h0M1231.2 62.3h0M1235.7 61.0h0M1266.8 61.0h0M1276.4 61.0h0M1283.0 61.0h0M1289.3 61.0h0M1353.2 61.0h0M1380.7 61.0h0M1388.6 61.0h0M1415.2 61.0h0M1415.4 61.0h0M1451.8 64.3h0M1454.4 64.6h0M1469.5 60.6h0M1518.1 60.6h0M1521.4 61.7h0M1520.4 64.6h0M1528.3 65.3h0M583.9 568.5h0M590.4 569.8h0M593.0 570.3h0M600.9 571.9h0M608.3 573.2h0M617.4 573.7h0M640.3 589.0h0M644.2 589.5h0M664.7 590.3h0M673.9 591.8h0M685.1 586.3h0M944.9 803.2h0M1012.4 845.2h0M1017.6 847.5h0M1022.9 848.8h0" fill="none" stroke="#94a72b" stroke-width="5.1" stroke-linecap="round"/>
<path d="M418.9 28.2h0M429.4 24.9h0M429.4 28.9h0M447.8 24.3h0M455.0 29.1h0M460.3 28.2h0M462.9 28.9h0M467.5 29.1h0M471.4 29.1h0M482.6 24.3h0M497.7 28.9h0M499.6 29.5h0M504.2 29.1h0M512.1 25.6h0M514.1 30.8h0M510.1 29.1h0M533.7 22.3h0M537.7 18.4h0M539.0 24.3h0M536.4 28.2h0M540.3 28.2h0M556.7 24.3h0M564.6 24.3h0M551.5 29.1h0M561.9 29.1h0M567.9 29.1h0M804.6 28.2h0M817.1 23.6h0M823.0 29.1h0M794.8 34.8h0M854.5 24.3h0M862.3 23.6h0M849.9 29.1h0M861.7 28.2h0M905.6 28.2h0M909.6 29.1h0M920.1 29.1h0M924.0 24.9h0M939.1 29.1h0M968.6 29.1h0M973.9 29.1h0M980.4 29.1h0M983.0 24.3h0M988.3 28.2h0" fill="none" stroke="#94a72b" stroke-width="5.2" stroke-linecap="round"/>
<path d="M415.7 37.4h0M428.1 36.1h0M430.1 38.7h0M434.7 38.7h0M436.6 35.4h0M441.9 38.0h0M444.5 41.3h0M447.8 42.0h0M451.7 38.0h0M454.4 39.4h0M459.6 35.4h0M460.9 38.7h0M464.9 36.7h0M468.1 42.0h0M470.8 38.7h0M485.8 36.7h0M489.8 36.1h0M488.5 39.4h0M489.8 42.6h0M493.7 41.7h0M500.3 36.7h0M505.5 36.7h0M507.5 38.7h0M526.5 37.4h0M529.1 38.7h0M532.4 34.1h0M534.4 42.0h0M541.0 36.1h0M541.0 38.7h0M549.5 42.0h0M552.8 39.4h0M556.0 42.0h0M560.6 36.7h0M565.9 35.4h0M568.5 38.0h0M791.5 39.4h0M792.1 42.0h0M799.4 42.0h0M803.3 42.0h0M807.2 40.7h0M813.8 39.4h0M820.4 38.7h0M840.7 42.0h0M844.0 38.7h0M842.4 50.9h0M853.8 42.0h0M861.0 42.0h0M863.7 40.7h0M875.5 39.4h0M881.4 42.0h0M891.2 42.0h0M897.8 42.0h0M925.3 42.0h0M935.2 36.5h0M891.9 46.8h0M887.3 50.9h0M952.5 46.8h0M983.0 46.8h0M1011.0 24.3h0M1020.2 24.3h0M996.6 28.2h0M1001.2 26.9h0M1005.1 29.1h0M1026.7 28.2h0M1034.6 27.6h0M990.0 29.1h0M1001.8 36.7h0M1003.1 39.4h0M1004.4 42.0h0M1014.3 36.7h0M1011.0 40.7h0M1009.7 43.3h0M1024.8 36.7h0M1032.0 36.1h0M1034.6 38.0h0M1032.0 42.0h0M993.3 46.6h0M999.2 46.6h0M1008.4 46.8h0M1015.6 46.8h0M1021.5 46.2h0M992.6 51.2h0M990.0 37.4h0M1079.2 24.3h0M1077.3 29.1h0M1083.2 29.1h0M1091.7 29.1h0M1103.1 24.3h0M1111.4 23.6h0M1116.2 29.1h0M1078.2 41.3h0M1083.8 46.8h0M1086.4 51.2h0M1105.7 53.8h0M1097.6 46.8h0M1129.7 46.8h0M1130.4 42.0h0M1131.0 24.3h0M1131.0 29.1h0M1138.3 23.6h0M1134.3 34.1h0M1135.6 38.0h0M1139.6 42.0h0M1163.2 40.7h0M1152.7 29.1h0M1171.7 38.0h0M1175.0 42.0h0M1176.3 24.3h0M1178.3 46.8h0M1199.3 27.6h0M1201.2 34.1h0M1210.4 27.6h0M1218.3 25.6h0M1217.0 39.4h0M1219.0 46.8h0M1201.2 46.6h0M1196.0 46.8h0M1194.3 53.8h0M1227.2 24.3h0M1265.3 24.9h0M1265.9 28.2h0M1270.5 28.2h0M1281.0 29.1h0M1286.3 29.1h0M1300.3 28.2h0M1307.3 29.1h0M1321.7 26.2h0M1321.7 28.2h0M1344.4 28.2h0M1353.8 29.1h0M1358.4 27.6h0M1385.3 25.6h0M1389.3 28.2h0M1394.5 23.6h0M1403.0 23.6h0M1398.4 29.1h0M1407.6 29.1h0M1220.0 29.1h0M1222.6 36.7h0M1222.6 39.4h0M1233.1 40.7h0M1237.1 37.4h0M1241.0 36.7h0M1241.0 42.0h0M1244.3 37.4h0M1250.2 39.0h0M1289.5 44.6h0M1292.2 40.7h0M1303.3 42.0h0M1322.3 39.0h0M1344.0 42.0h0M1364.3 42.0h0M1384.0 42.0h0M1393.2 38.0h0M1398.4 39.4h0M1402.4 42.0h0M1405.0 36.7h0M1231.8 46.6h0M1231.8 48.5h0M1273.8 46.6h0M1335.2 46.8h0M1365.6 46.8h0M1389.3 46.8h0M1391.9 46.8h0M1403.7 45.9h0M1410.9 46.8h0M1417.5 46.6h0M1408.9 51.2h0M1304.6 50.9h0M1440.4 24.3h0M1440.4 29.1h0M1447.0 29.1h0M1438.5 42.0h0M1443.0 39.4h0M1448.3 36.1h0M1440.4 46.8h0M1402.6 24.3h0M1407.2 29.1h0M1400.0 29.1h0M1446.6 29.1h0M1457.7 24.3h0M1465.6 29.1h0M1470.2 26.2h0M1472.2 30.8h0M1480.3 24.3h0M1493.8 29.1h0M1504.3 26.9h0M1502.3 29.1h0M1507.6 29.1h0M1513.5 29.1h0M1519.4 26.9h0M1404.6 36.1h0M1402.0 39.4h0M1421.0 37.4h0M1438.7 40.7h0M1440.7 42.0h0M1444.6 42.0h0M1459.7 38.7h0M1466.9 38.0h0M1485.3 42.0h0M1498.4 37.4h0M1505.0 38.0h0M1506.3 34.1h0M1510.2 38.7h0M1514.1 37.4h0M1522.0 36.7h0M1524.0 39.4h0M1403.3 46.8h0M1410.5 46.6h0M1417.1 46.6h0M1408.5 50.5h0M1440.7 46.8h0M1521.4 46.8h0M1527.9 48.5h0M1400.0 53.8h0M1438.3 53.8h0M1516.8 53.8h0" fill="none" stroke="#94a72b" stroke-width="5.6" stroke-linecap="round"/>
<path d="M864.1 719.2h0M869.4 741.5h0" fill="none" stroke="#94a72b" stroke-width="6.0" stroke-linecap="round"/>
<g fill="#85a544"><circle cx="1400.7" cy="1076.0" r="3"/></g>
<g fill="#8aa738"><circle cx="1440.7" cy="17.1" r="3"/><circle cx="1439.4" cy="24.3" r="3"/><circle cx="1439.4" cy="28.2" r="3"/><circle cx="1439.4" cy="30.8" r="3"/></g>
<g fill="#a5a622"><circle cx="1495.8" cy="61.0" r="3"/></g>
<g fill="#94a72b"><circle cx="802.4" cy="282.9" r="3.2"/><circle cx="1358.2" cy="297.8" r="3.2"/><circle cx="1166.7" cy="934.9" r="3.2"/></g>
<g fill="#94a72b"><circle cx="1081.9" cy="473.2" r="3.3"/><circle cx="1290.5" cy="696.3" r="3.3"/><circle cx="931.8" cy="779.8" r="3.3"/><circle cx="1281.3" cy="727.6" r="3.3"/></g>
<g fill="#85a544"><circle cx="1517.0" cy="401.3" r="3.3"/></g>
<g fill="#7fa44f"><circle cx="355.6" cy="297.8" r="3.5"/></g>
<g fill="#94a72b"><circle cx="801.9" cy="592.9" r="3.5"/><circle cx="409.4" cy="61.0" r="3.5"/><circle cx="792.8" cy="28.9" r="3.5"/></g>
<g fill="#85a544"><circle cx="1466.3" cy="779.6" r="3.5"/></g>
<g fill="#a5a622"><circle cx="441.2" cy="19.0" r="3.5"/></g>
<g fill="#94a72b"><circle cx="792.1" cy="18.8" r="3.6"/><circle cx="798.0" cy="18.8" r="3.6"/><circle cx="817.7" cy="19.7" r="3.6"/></g>
<g fill="#94a72b"><circle cx="1228.3" cy="200.0" r="3.7"/></g>
<g fill="#85a544"><circle cx="823.4" cy="716.6" r="3.8"/><circle cx="975.1" cy="822.6" r="3.8"/><circle cx="333.3" cy="44.0" r="3.8"/></g>
<g fill="#94a72b"><circle cx="481.0" cy="200.0" r="4"/><circle cx="1020.8" cy="23.6" r="4"/><circle cx="1170.4" cy="29.1" r="4"/></g>
<g fill="#85a544"><circle cx="802.4" cy="695.8" r="4"/><circle cx="934.5" cy="17.7" r="4"/></g>
<g fill="#7fa650"><circle cx="1290.8" cy="53.8" r="4"/></g>
<g fill="#94a72b"><circle cx="1175.0" cy="53.8" r="4.2"/></g>
<g fill="#a5a622"><circle cx="355.6" cy="18.4" r="4.4"/><circle cx="812.5" cy="17.7" r="4.4"/></g>
<g fill="#7da348"><circle cx="1299.2" cy="547.2" r="4.5"/></g>
<g fill="#85a544"><circle cx="1145.5" cy="18.4" r="4.5"/></g>
<g fill="#a5a622"><circle cx="356.2" cy="28.2" r="4.6"/></g>
<g fill="#85a544"><circle cx="441.9" cy="28.9" r="4.6"/><circle cx="804.0" cy="18.4" r="4.6"/><circle cx="824.3" cy="18.4" r="4.6"/><circle cx="1192.7" cy="42.0" r="4.6"/></g>
<g fill="#a5a622"><circle cx="1299.2" cy="207.3" r="4.7"/></g>
<g fill="#a5a622"><circle cx="975.2" cy="19.7" r="4.8"/></g>
<g fill="#7fa650"><circle cx="812.5" cy="27.8" r="4.8"/></g>
<g fill="#a5a622"><circle cx="356.2" cy="37.4" r="5"/><circle cx="1145.5" cy="29.1" r="5"/><circle cx="1206.5" cy="18.4" r="5"/><circle cx="1491.8" cy="61.0" r="5"/></g>
<g fill="#85a544"><circle cx="1192.7" cy="17.7" r="5"/><circle cx="1193.4" cy="24.3" r="5"/></g>
<g fill="#a5a622"><circle cx="487.8" cy="28.9" r="5.2"/></g>
<g fill="#7fa650"><circle cx="487.8" cy="18.8" r="5.5"/></g>
<g fill="#72a060"><circle cx="1482.1" cy="547.2" r="6.5"/></g>
<g fill="#b5a31b"><circle cx="1482.1" cy="207.3" r="6.9"/></g>
<g fill="none" stroke="#94a72b" stroke-linecap="round">
<line x1="1220" y1="18.5" x2="1233" y2="18.5" stroke-width="5"/>
</g>
<circle cx="1248.2" cy="18.5" r="15.3" fill="#e52b00"/>
<g fill="none" stroke="#94a72b" stroke-linecap="round">
<line x1="1249" y1="18.5" x2="1338" y2="18.5" stroke-width="4.6"/>
<line x1="1343" y1="18.5" x2="1411" y2="18.5" stroke-width="5"/>
<line x1="1400" y1="18.5" x2="1409" y2="18.5" stroke-width="5"/>
</g>
<circle cx="1291" cy="19.0" r="5.5" fill="#a5a622"/>
<line x1="1423.2" y1="18.8" x2="1436.5" y2="18.8" stroke="#e79a00" stroke-width="24" stroke-linecap="round"/>
<g fill="none" stroke="#94a72b" stroke-linecap="round">
<line x1="1439" y1="18.5" x2="1526" y2="18.5" stroke-width="5"/>
</g>
<circle cx="1490.5" cy="18.5" r="4.5" fill="#85a544"/>
<g fill="#8aa738"><circle cx="1440.7" cy="17.1" r="3"/><circle cx="1439.4" cy="24.3" r="3"/><circle cx="1439.4" cy="28.2" r="3"/><circle cx="1439.4" cy="30.8" r="3"/></g>
<circle cx="1540.1" cy="18.8" r="14.7" fill="#e53e00"/>
<circle cx="1540.1" cy="36.7" r="14.7" fill="#1a5a66"/>
<circle cx="1540.1" cy="38.7" r="14.7" fill="#e53e00"/>
<circle cx="1248.2" cy="486.4" r="15.6" fill="#e52b00"/>
<line x1="1251.9" y1="496.8" x2="1263.0" y2="508.9" stroke="#94a72b" stroke-width="4.6" stroke-linecap="round"/>
<line x1="1422.8" y1="486.4" x2="1437.3" y2="486.5" stroke="#e79a00" stroke-width="23.5" stroke-linecap="round"/>
<line x1="1431" y1="237.1" x2="1436.7" y2="237.1" stroke="#2a7fad" stroke-width="24.2" stroke-linecap="round"/>
<circle cx="1248.2" cy="741.9" r="15.6" fill="#003c40"/>
<line x1="1251.4" y1="728.7" x2="1262.4" y2="728.7" stroke="#94a72b" stroke-width="4.6" stroke-linecap="round"/>
<line x1="1423" y1="741.9" x2="1429.1" y2="741.9" stroke="#2a7fad" stroke-width="24" stroke-linecap="round"/>
<text transform="translate(189.6,1212.8) scale(1,1.04)" font-size="48.8" text-anchor="middle">0</text>
<text transform="translate(631.6,1212.8) scale(1,1.04)" font-size="48.8" text-anchor="middle">500</text>
<text transform="translate(1073.7,1212.8) scale(1,1.04)" font-size="48.8" text-anchor="middle">1000</text>
<text transform="translate(1515.8,1212.8) scale(1,1.04)" font-size="48.8" text-anchor="middle">1500</text>
<text transform="translate(172.4,35.0) scale(1,1.04)" font-size="48.8" text-anchor="end">0</text>
<text transform="translate(172.4,211.7) scale(1,1.04)" font-size="48.8" text-anchor="end">200</text>
<text transform="translate(172.4,388.4) scale(1,1.04)" font-size="48.8" text-anchor="end">400</text>
<text transform="translate(172.4,565.0) scale(1,1.04)" font-size="48.8" text-anchor="end">600</text>
<text transform="translate(172.4,741.7) scale(1,1.04)" font-size="48.8" text-anchor="end">800</text>
<text transform="translate(172.4,918.4) scale(1,1.04)" font-size="48.8" text-anchor="end">1000</text>
<text transform="translate(172.4,1095.1) scale(1,1.04)" font-size="48.8" text-anchor="end">1200</text>
<text transform="translate(858.2,1276) scale(1,1.02)" font-size="53.5" text-anchor="middle">Number of columns/reactions</text>
<text transform="translate(869.5,1342.3) scale(1,1.02)" font-size="53.5" text-anchor="middle">(6656 nonzero elements)</text>
<text transform="translate(41.1,586.4) rotate(-90) scale(1,1.02)" font-size="53.5" text-anchor="middle">Number of rows/metabolites</text>
</svg></body></html>
